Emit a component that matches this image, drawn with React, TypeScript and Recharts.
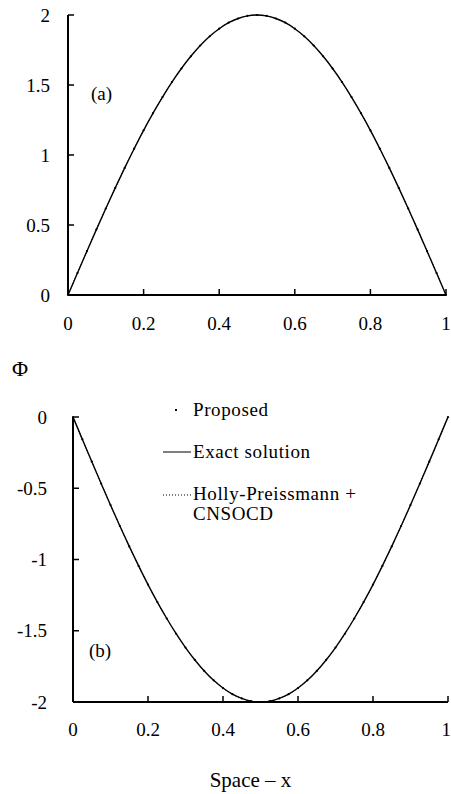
import { LineChart, Line, XAxis, YAxis, Legend, Label } from "recharts";

const FONT = "Liberation Serif, DejaVu Serif, serif";

// sample positions along x (shared by all series)
const xs = [
  0, 0.025, 0.05, 0.075, 0.1, 0.125, 0.15, 0.175, 0.2, 0.225, 0.25, 0.275, 0.3, 0.325,
  0.35, 0.375, 0.4, 0.425, 0.45, 0.475, 0.5, 0.525, 0.55, 0.575, 0.6, 0.625, 0.65,
  0.675, 0.7, 0.725, 0.75, 0.775, 0.8, 0.825, 0.85, 0.875, 0.9, 0.925, 0.95, 0.975, 1,
];

// panel (a) values
const phiA = [
  0, 0.157, 0.313, 0.467, 0.618, 0.765, 0.908, 1.045, 1.176, 1.299, 1.414, 1.521, 1.618,
  1.705, 1.782, 1.848, 1.902, 1.945, 1.975, 1.994, 2.0, 1.994, 1.975, 1.945, 1.902, 1.848,
  1.782, 1.705, 1.618, 1.521, 1.414, 1.299, 1.176, 1.045, 0.908, 0.765, 0.618, 0.467,
  0.313, 0.157, 0,
];

// panel (b) values
const phiB = [
  0, -0.157, -0.313, -0.467, -0.618, -0.765, -0.908, -1.045, -1.176, -1.299, -1.414,
  -1.521, -1.618, -1.705, -1.782, -1.848, -1.902, -1.945, -1.975, -1.994, -2.0, -1.994,
  -1.975, -1.945, -1.902, -1.848, -1.782, -1.705, -1.618, -1.521, -1.414, -1.299, -1.176,
  -1.045, -0.908, -0.765, -0.618, -0.467, -0.313, -0.157, 0,
];

const xTicks = [0, 0.2, 0.4, 0.6, 0.8, 1];
const yTicksA = [0, 0.5, 1, 1.5, 2];
const yTicksB = [-2, -1.5, -1, -0.5, 0];

const legendItems = [
  { lines: ["Proposed"], kind: "dot" },
  { lines: ["Exact solution"], kind: "line" },
  { lines: ["Holly-Preissmann +", "CNSOCD"], kind: "dotted" },
];

const dataA = xs.map((x, i) => ({ x, proposed: phiA[i], exact: phiA[i], holly: phiA[i] }));
const dataB = xs.map((x, i) => ({ x, proposed: phiB[i], exact: phiB[i], holly: phiB[i] }));

const tickStyle = { fill: "#000", fontSize: 19, fontFamily: FONT };
const axisLineStyle = { stroke: "#000", strokeWidth: 2 };
const tickLineStyle = { stroke: "#000", strokeWidth: 1.5 };

function PhiLegend() {
  return (
    <div style={{ fontFamily: FONT, fontSize: 19, lineHeight: "20px", color: "#000", letterSpacing: 0.6 }}>
      {legendItems.map((item, i) => (
        <div key={i} style={{ display: "flex", alignItems: "flex-start", marginTop: i === 0 ? 0 : 22 }}>
          <svg width={30} height={20} style={{ flexShrink: 0 }}>
            {item.kind === "dot" && <rect x={12} y={9} width={2} height={2} fill="#000" />}
            {item.kind === "line" && <line x1={0} x2={28} y1={10} y2={10} stroke="#000" strokeWidth={1} />}
            {item.kind === "dotted" && (
              <line x1={0} x2={28} y1={11} y2={11} stroke="#000" strokeWidth={1} strokeDasharray="1 2" />
            )}
          </svg>
          <div>
            {item.lines.map((l) => (
              <div key={l} style={{ whiteSpace: "nowrap" }}>{l}</div>
            ))}
          </div>
        </div>
      ))}
    </div>
  );
}

function Series() {
  return [
    <Line
      key="holly"
      dataKey="holly"
      type="monotone"
      stroke="#000"
      strokeWidth={1}
      strokeDasharray="1 2"
      dot={false}
      isAnimationActive={false}
    />,
    <Line
      key="exact"
      dataKey="exact"
      type="monotone"
      stroke="#000"
      strokeWidth={1.4}
      dot={false}
      isAnimationActive={false}
    />,
    <Line
      key="proposed"
      dataKey="proposed"
      stroke="none"
      dot={{ r: 1.1, fill: "#000", stroke: "none" }}
      isAnimationActive={false}
    />,
  ];
}

export default function App() {
  return (
    <div
      style={{
        position: "absolute",
        left: 0,
        top: 0,
        width: 451,
        height: 794,
        background: "#fff",
        fontFamily: FONT,
        color: "#000",
      }}
    >
      {/* panel (a) */}
      <div style={{ position: "absolute", left: 0, top: 0 }}>
        <LineChart width={451} height={345} data={dataA} margin={{ top: 15, right: 5, left: 0, bottom: 0 }}>
          <XAxis
            dataKey="x"
            type="number"
            domain={[0, 1]}
            ticks={xTicks}
            height={50}
            tickSize={-6}
            tickMargin={28}
            tick={tickStyle}
            axisLine={axisLineStyle}
            tickLine={tickLineStyle}
          />
          <YAxis
            type="number"
            domain={[0, 2]}
            ticks={yTicksA}
            width={68}
            tickSize={-6}
            tickMargin={24}
            tick={tickStyle}
            axisLine={axisLineStyle}
            tickLine={tickLineStyle}
          />
          {Series()}
        </LineChart>
      </div>
      <div style={{ position: "absolute", left: 91, top: 84, fontSize: 19, lineHeight: 1 }}>(a)</div>

      <div style={{ position: "absolute", left: 12, top: 358, fontSize: 22, lineHeight: 1 }}>Φ</div>

      {/* panel (b) */}
      <div style={{ position: "absolute", left: 0, top: 400 }}>
        <LineChart width={451} height={394} data={dataB} margin={{ top: 17, right: 3, left: 0, bottom: 0 }}>
          <XAxis
            dataKey="x"
            type="number"
            domain={[0, 1]}
            ticks={xTicks}
            height={92}
            tickSize={-6}
            tickMargin={27}
            tick={tickStyle}
            axisLine={axisLineStyle}
            tickLine={tickLineStyle}
          >
            <Label
              value="Space – x"
              position="insideBottom"
              offset={7}
              dx={-10}
              style={{ fill: "#000", fontSize: 21, fontFamily: FONT }}
            />
          </XAxis>
          <YAxis
            type="number"
            domain={[-2, 0]}
            ticks={yTicksB}
            width={73}
            tickSize={-6}
            tickMargin={32}
            tick={tickStyle}
            axisLine={axisLineStyle}
            tickLine={tickLineStyle}
          />
          <Legend
            layout="vertical"
            align="center"
            verticalAlign="middle"
            content={<PhiLegend />}
            wrapperStyle={{ left: 163, top: 0, width: 260 }}
          />
          {Series()}
        </LineChart>
      </div>
      <div style={{ position: "absolute", left: 89, top: 641, fontSize: 19, lineHeight: 1 }}>(b)</div>
    </div>
  );
}
